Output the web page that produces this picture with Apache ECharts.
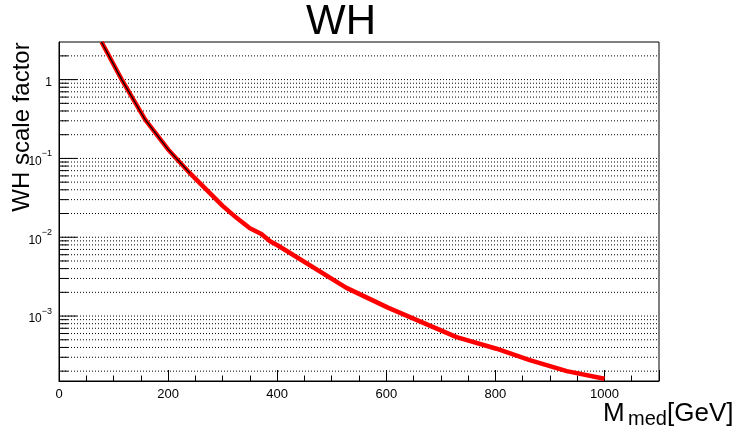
<!DOCTYPE html>
<html><head><meta charset="utf-8">
<script src="https://cdn.jsdelivr.net/npm/echarts@6/dist/echarts.min.js"></script>
<style>html,body{margin:0;padding:0;background:#fff}#c{width:737px;height:432px}</style>
</head><body><div id="c"></div>
<script>
// ---- data ----
const massPoints = [78, 115, 158, 200, 240, 300, 326, 350, 371, 387, 402, 527, 604, 729, 802, 863, 931, 1000];
const scaleFactor = [3.0, 1.0, 0.31, 0.13, 0.065, 0.025, 0.0175, 0.013, 0.011, 0.0089, 0.0078, 0.00228, 0.00127, 0.00054, 0.000385, 0.000276, 0.0002, 0.00016];
const blackUntil = 240; // black underlying curve visible on top of the red one up to this mass
const xTicks = [0, 200, 400, 600, 800, 1000];
const yDecades = [1e-4, 1e-3, 1e-2, 1e-1, 1];
const yMultipliers = [1, 2, 3, 4, 5, 6, 7, 8, 9];
const X_MIN = 0, X_MAX = 1100, Y_MIN = 1.5e-4, Y_MAX = 3.0;

const FONT = 'Liberation Sans, Arial, Helvetica, sans-serif';
const redData = massPoints.map((m, i) => [m, scaleFactor[i]]);
const blackData = redData.filter(p => p[0] <= blackUntil);

// log grid positions (2..9 x 10^n and powers) inside the axis range
const gridVals = [];
yDecades.forEach(d => yMultipliers.forEach(k => {
  const v = d * k;
  if (v > Y_MIN * 1.0001 && v < Y_MAX * 0.9999) gridVals.push([X_MIN, v, k === 1 ? 1 : 0]);
}));

const chart = echarts.init(document.getElementById('c'), null, {renderer: 'canvas'});
chart.setOption({
  animation: false,
  backgroundColor: '#fff',
  grid: {left: 59, right: 78, top: 42, bottom: 51, show: true, borderColor: '#000', borderWidth: 1, backgroundColor: 'transparent'},
  xAxis: {
    type: 'value', min: X_MIN, max: X_MAX, interval: 200,
    axisLine: {show: true, lineStyle: {color: '#000', width: 1}},
    axisTick: {show: true, inside: true, length: 11, lineStyle: {color: '#000'}},
    minorTick: {show: true, splitNumber: 4, length: 5.5, lineStyle: {color: '#000'}},
    splitLine: {show: false},
    axisLabel: {
      fontFamily: FONT, fontSize: 13, color: '#000', margin: 7,
      showMaxLabel: false,
      formatter: v => (xTicks.indexOf(v) >= 0 ? String(v) : '')
    }
  },
  yAxis: {
    type: 'log', logBase: 10, min: Y_MIN, max: Y_MAX,
    axisLine: {show: true, lineStyle: {color: '#000', width: 1}},
    axisTick: {show: false},
    splitLine: {show: false},
    axisLabel: {
      fontFamily: FONT, fontSize: 12, color: '#000', margin: 7,
      showMinLabel: false, showMaxLabel: false,
      formatter: function (v) {
        const l = Math.log10(v), e = Math.round(l);
        if (Math.abs(l - e) > 1e-6) return '';
        if (e === 0) return '{n|1}';
        return '{n|10}{s|' + (e < 0 ? '\u2212' : '') + Math.abs(e) + '}';
      },
      rich: {
        n: {fontFamily: FONT, fontSize: 12, color: '#000', lineHeight: 18, verticalAlign: 'bottom'},
        s: {fontFamily: FONT, fontSize: 9, color: '#000', lineHeight: 18, verticalAlign: 'top'}
      }
    }
  },
  series: [
    {
      type: 'custom', coordinateSystem: 'cartesian2d', data: gridVals, z: 1, silent: true,
      encode: {x: 0, y: 1},
      renderItem: function (params, api) {
        const v = api.value(1);
        const p0 = api.coord([X_MIN, v]);
        const p1 = api.coord([X_MAX, v]);
        const major = api.value(2) === 1;
        const len = major ? 18 : 9;
        return {
          type: 'group',
          children: [
            {type: 'line', shape: {x1: p0[0], y1: p0[1], x2: p1[0], y2: p1[1]},
             style: {stroke: '#000', lineWidth: 1, lineDash: [1, 2]}},
            {type: 'line', shape: {x1: p0[0], y1: p0[1], x2: p0[0] + len, y2: p0[1]},
             style: {stroke: '#000', lineWidth: 1}}
          ]
        };
      }
    },
    {
      type: 'line', data: redData, z: 3, symbol: 'none', smooth: false, clip: true,
      lineStyle: {color: '#ff0000', width: 4.5}
    },
    {
      type: 'line', data: blackData, z: 4, symbol: 'none', smooth: false, clip: true,
      lineStyle: {color: '#000', width: 1.2}
    }
  ],
  graphic: [
    {type: 'text', x: 341, y: 22, z: 10,
     style: {text: 'WH', fontFamily: FONT, fontSize: 42, fill: '#000', align: 'center', verticalAlign: 'middle'}},
    {type: 'text', x: 22, y: 127, rotation: Math.PI / 2, z: 10,
     style: {text: 'WH scale factor', fontFamily: FONT, fontSize: 24, fill: '#000', align: 'center', verticalAlign: 'middle'}},
    {type: 'text', x: 603, y: 414, z: 10,
     style: {text: 'M', fontFamily: FONT, fontSize: 26, fill: '#000', align: 'left', verticalAlign: 'middle'}},
    {type: 'text', x: 628, y: 419, z: 10,
     style: {text: 'med', fontFamily: FONT, fontSize: 20, fill: '#000', align: 'left', verticalAlign: 'middle'}},
    {type: 'text', x: 667, y: 414, z: 10,
     style: {text: '[GeV]', fontFamily: FONT, fontSize: 26, fill: '#000', align: 'left', verticalAlign: 'middle'}}
  ]
});
</script>
</body></html>
